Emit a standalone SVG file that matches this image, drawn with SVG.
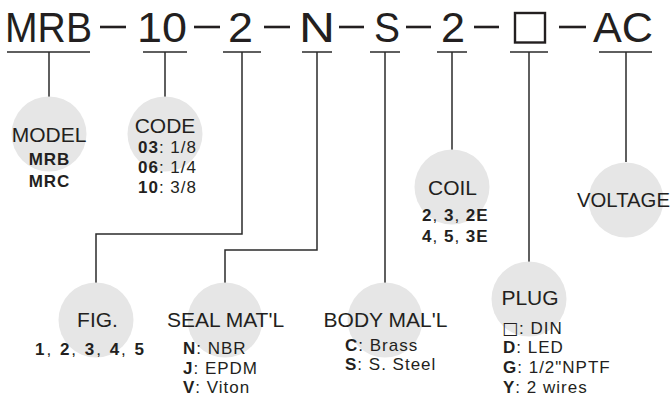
<svg xmlns="http://www.w3.org/2000/svg" width="672" height="400" viewBox="0 0 672 400">
<style>
.code{font-family:"Liberation Sans",Arial,sans-serif;font-size:42px;fill:#231f20}
.t{font-family:"Liberation Sans",Arial,sans-serif;font-size:21px;fill:#231f20;text-anchor:middle}
.s{font-family:"Liberation Sans",Arial,sans-serif;font-size:17px;fill:#231f20;letter-spacing:1px}
.b{font-weight:bold}
.box{font-family:"DejaVu Sans",sans-serif;font-size:17px}
.c{fill:#e6e6e6}
.ln{stroke:#2b2b2b;stroke-width:1.5;fill:none}
.dash{stroke:#231f20;stroke-width:2.6}
</style>
<g id="code">
<text class="code" x="5" y="42" textLength="87" lengthAdjust="spacingAndGlyphs">MRB</text>
<line class="dash" x1="100" y1="27" x2="126" y2="27"/>
<text class="code" x="137" y="42" textLength="50" lengthAdjust="spacingAndGlyphs">10</text>
<line class="dash" x1="194" y1="27" x2="220" y2="27"/>
<text class="code" x="228" y="42" textLength="25" lengthAdjust="spacingAndGlyphs">2</text>
<line class="dash" x1="264" y1="27" x2="290" y2="27"/>
<text class="code" x="299" y="42" textLength="36" lengthAdjust="spacingAndGlyphs">N</text>
<line class="dash" x1="339" y1="27" x2="364" y2="27"/>
<text class="code" x="374" y="42" textLength="26" lengthAdjust="spacingAndGlyphs">S</text>
<line class="dash" x1="406" y1="27" x2="431" y2="27"/>
<text class="code" x="441" y="42" textLength="24" lengthAdjust="spacingAndGlyphs">2</text>
<line class="dash" x1="474" y1="27" x2="499" y2="27"/>
<rect x="515" y="13" width="30" height="29.5" fill="none" stroke="#231f20" stroke-width="2.4"/>
<line class="dash" x1="559" y1="27" x2="586" y2="27"/>
<text class="code" x="593" y="42" textLength="60" lengthAdjust="spacingAndGlyphs">AC</text>
</g>
<g id="connectors">
<path class="ln" d="M7 52H90M49 52V97"/>
<path class="ln" d="M143 52H187M165 52V97"/>
<path class="ln" d="M223 52H261M242 52V234H96V283"/>
<path class="ln" d="M302 52H332M317 52V250H225V283"/>
<path class="ln" d="M370 52H400M385 52V283"/>
<path class="ln" d="M437 52H467M452 52V150"/>
<path class="ln" d="M510 52H548M529 52V262"/>
<path class="ln" d="M599 52H652M626 52V162"/>
</g>
<g id="model">
<circle class="c" cx="49" cy="134" r="37.5"/>
<text class="t" x="49" y="142">MODEL</text>
<text class="s b" x="49.5" y="165" text-anchor="middle">MRB</text>
<text class="s b" x="49.5" y="187" text-anchor="middle">MRC</text>
</g>
<g id="codebox">
<circle class="c" cx="165" cy="134" r="37.5"/>
<text class="t" x="165" y="133">CODE</text>
<text class="s" x="138" y="153"><tspan class="b">03</tspan>: 1/8</text>
<text class="s" x="138" y="173"><tspan class="b">06</tspan>: 1/4</text>
<text class="s" x="138" y="193"><tspan class="b">10</tspan>: 3/8</text>
</g>
<g id="coil">
<circle class="c" cx="452" cy="187" r="37.5"/>
<text class="t" x="452.5" y="195">COIL</text>
<text class="s" x="422" y="221"><tspan class="b">2</tspan>, <tspan class="b">3</tspan>, <tspan class="b">2E</tspan></text>
<text class="s" x="422" y="242"><tspan class="b">4</tspan>, <tspan class="b">5</tspan>, <tspan class="b">3E</tspan></text>
</g>
<g id="voltage">
<circle class="c" cx="626" cy="200" r="37.5"/>
<text class="t" x="623.5" y="207" textLength="93" lengthAdjust="spacingAndGlyphs">VOLTAGE</text>
</g>
<g id="fig">
<circle class="c" cx="96" cy="320" r="37.5"/>
<text class="t" x="97.5" y="327">FIG.</text>
<text class="s" x="35" y="355" textLength="110" lengthAdjust="spacing"><tspan class="b">1</tspan>, <tspan class="b">2</tspan>, <tspan class="b">3</tspan>, <tspan class="b">4</tspan>, <tspan class="b">5</tspan></text>
</g>
<g id="seal">
<circle class="c" cx="225" cy="320" r="37.5"/>
<text class="t" x="225.5" y="327">SEAL MAT'L</text>
<text class="s" x="183" y="354"><tspan class="b">N</tspan>: NBR</text>
<text class="s" x="183" y="374"><tspan class="b">J</tspan>: EPDM</text>
<text class="s" x="183" y="393"><tspan class="b">V</tspan>: Viton</text>
</g>
<g id="body">
<circle class="c" cx="385" cy="320" r="37.5"/>
<text class="t" x="385.5" y="327">BODY MAL'L</text>
<text class="s" x="345" y="351"><tspan class="b">C</tspan>: Brass</text>
<text class="s" x="345" y="370"><tspan class="b">S</tspan>: S. Steel</text>
</g>
<g id="plug">
<circle class="c" cx="529" cy="299" r="37.5"/>
<text class="t" x="530" y="305">PLUG</text>
<text class="s" x="502" y="334"><tspan class="box">□</tspan>: DIN</text>
<text class="s" x="503" y="353"><tspan class="b">D</tspan>: LED</text>
<text class="s" x="503" y="373"><tspan class="b">G</tspan>: 1/2"NPTF</text>
<text class="s" x="503" y="393"><tspan class="b">Y</tspan>: 2 wires</text>
</g>
</svg>
